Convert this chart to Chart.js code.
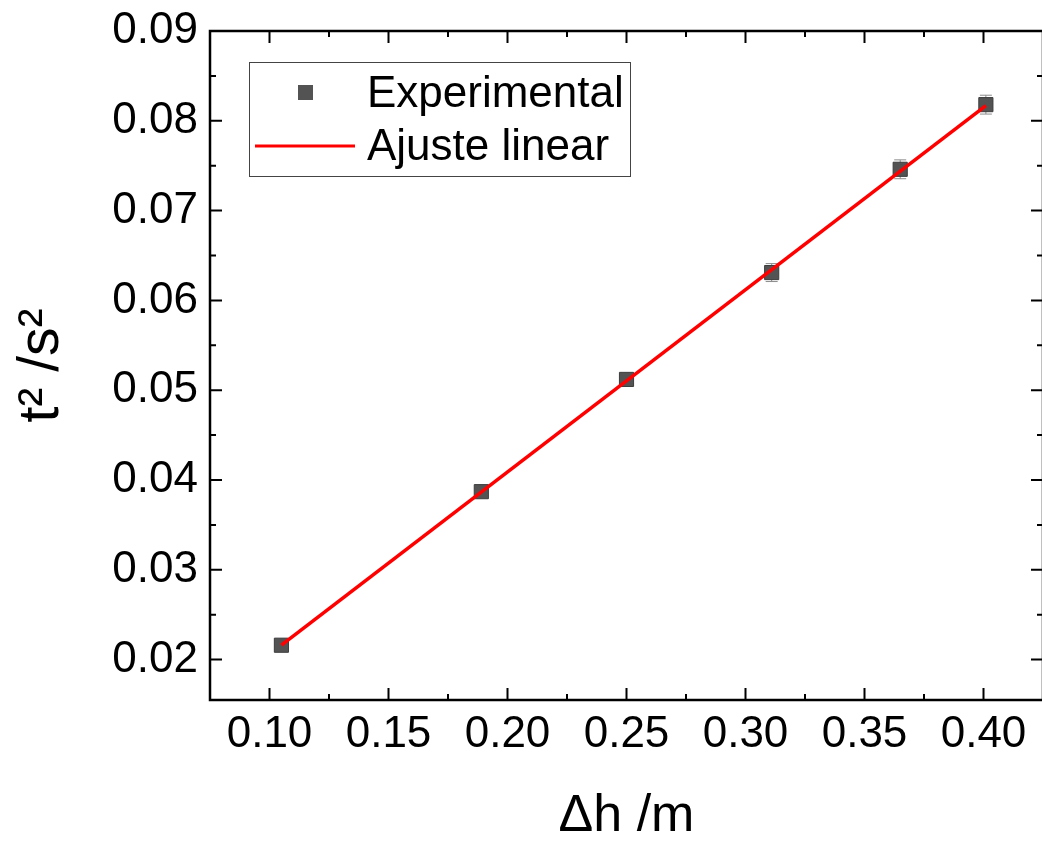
<!DOCTYPE html>
<html>
<head>
<meta charset="utf-8">
<script src="https://cdn.jsdelivr.net/npm/chart.js@4.4.1/dist/chart.umd.min.js"></script>
<style>
    html, body { margin: 0; padding: 0; background: #fff; overflow: hidden; }
    #wadah { width: 1060px; height: 841px; }
</style>
</head>
<body>
<div id="wadah"><canvas id="grafik"></canvas></div>
<script>
// data
const dhValues = [0.105, 0.189, 0.250, 0.311, 0.365, 0.401]
const t2Values = [0.0216, 0.0387, 0.0512, 0.0631, 0.0746, 0.0818]
const t2Errors = [0.0004, 0.0004, 0.0006, 0.0010, 0.00105, 0.00105]
const fitX = [0.105, 0.401]
const fitY = [0.0216, 0.0817]
const xTickValues = [0.10, 0.15, 0.20, 0.25, 0.30, 0.35, 0.40]
const yTickValues = [0.02, 0.03, 0.04, 0.05, 0.06, 0.07, 0.08, 0.09]

Chart.defaults.font.family = "'Liberation Sans', Arial, sans-serif"
Chart.defaults.color = '#000'

// box around the plot with inward ticks on all four sides
const bingkai = {
    id: 'bingkai',
    afterDraw(chart) {
        const { ctx, chartArea: a, scales } = chart
        ctx.save()
        ctx.strokeStyle = '#000'
        ctx.lineWidth = 2.5
        ctx.strokeRect(a.left, a.top, a.right - a.left, a.bottom - a.top)

        const marks = (scale) => {
            const vals = scale.ticks.map(t => t.value)
            const step = vals[1] - vals[0]
            const list = []
            vals.forEach(v => list.push([v, 12]))
            for (let v = vals[0] - step / 2; v <= scale.max + 1e-9; v += step) {
                if (v >= scale.min - 1e-9) list.push([v, 6])
            }
            return list
        }
        ctx.lineWidth = 2
        ctx.beginPath()
        marks(scales.x).forEach(([v, len]) => {
            const px = scales.x.getPixelForValue(v)
            ctx.moveTo(px, a.bottom); ctx.lineTo(px, a.bottom - len)
            ctx.moveTo(px, a.top); ctx.lineTo(px, a.top + len)
        })
        marks(scales.y).forEach(([v, len]) => {
            const py = scales.y.getPixelForValue(v)
            ctx.moveTo(a.left, py); ctx.lineTo(a.left + len, py)
            ctx.moveTo(a.right, py); ctx.lineTo(a.right - len, py)
        })
        ctx.stroke()
        ctx.restore()
    }
}

// error bars under the markers
const galat = {
    id: 'galat',
    beforeDatasetsDraw(chart) {
        const { ctx, scales } = chart
        ctx.save()
        ctx.strokeStyle = '#8c8c8c'
        ctx.lineWidth = 1
        ctx.beginPath()
        dhValues.forEach((x, i) => {
            const px = scales.x.getPixelForValue(x)
            const y1 = scales.y.getPixelForValue(t2Values[i] - t2Errors[i])
            const y2 = scales.y.getPixelForValue(t2Values[i] + t2Errors[i])
            ctx.moveTo(px, y1); ctx.lineTo(px, y2)
            ctx.moveTo(px - 6, y1); ctx.lineTo(px + 6, y1)
            ctx.moveTo(px - 6, y2); ctx.lineTo(px + 6, y2)
        })
        ctx.stroke()
        ctx.restore()
    }
}

// legend box inside the plot
const legenda = {
    id: 'legenda',
    afterDraw(chart) {
        const { ctx, chartArea: a } = chart
        const ds = chart.data.datasets
        const bx = a.left + 39, by = a.top + 31
        ctx.save()
        ctx.fillStyle = '#fff'
        ctx.fillRect(bx, by, 381, 114)
        ctx.strokeStyle = '#444'
        ctx.lineWidth = 1
        ctx.strokeRect(bx + 0.5, by + 0.5, 381, 114)

        ctx.fillStyle = ds[1].backgroundColor
        ctx.fillRect(bx + 49, by + 23, 15, 15)
        ctx.strokeStyle = ds[0].borderColor
        ctx.lineWidth = 3
        ctx.beginPath()
        ctx.moveTo(bx + 6, by + 84); ctx.lineTo(bx + 106, by + 84)
        ctx.stroke()

        ctx.fillStyle = '#000'
        ctx.font = "44px 'Liberation Sans', Arial, sans-serif"
        ctx.textBaseline = 'alphabetic'
        ctx.fillText(ds[1].label, bx + 118, by + 45)
        ctx.fillText(ds[0].label, bx + 118, by + 98)
        ctx.restore()
    }
}

const ctx = document.getElementById('grafik').getContext('2d')
const grafik = new Chart(ctx, {
    type: 'scatter',
    data: {
        datasets: [{
            label: 'Ajuste linear',
            data: fitX.map((x, i) => ({ x: x, y: fitY[i] })),
            showLine: true,
            borderColor: '#ff0000',
            borderWidth: 3.5,
            pointRadius: 0,
            order: 0
        }, {
            label: 'Experimental',
            data: dhValues.map((x, i) => ({ x: x, y: t2Values[i] })),
            pointStyle: 'rect',
            pointRadius: 10,
            backgroundColor: '#535353',
            borderColor: '#3c3c3c',
            borderWidth: 1,
            order: 1
        }]
    },
    options: {
        responsive: true,
        maintainAspectRatio: false,
        animation: false,
        layout: { padding: { left: 0, top: 31, right: 17, bottom: 0 } },
        plugins: {
            legend: { display: false },
            tooltip: { enabled: false }
        },
        scales: {
            x: {
                type: 'linear',
                min: 0.075,
                max: 0.425,
                afterBuildTicks: (s) => { s.ticks = xTickValues.map(v => ({ value: v })) },
                afterFit: (s) => {
                    s.height = 141
                    s.paddingLeft = 0
                    s.paddingRight = 0
                },
                grid: { display: false, drawTicks: false },
                border: { display: false },
                ticks: {
                    font: { size: 44 },
                    padding: 8,
                    maxRotation: 0,
                    callback: (v) => v.toFixed(2)
                },
                title: {
                    display: true,
                    text: 'Δh /m',
                    font: { size: 52, lineHeight: 1 },
                    padding: { top: 0, bottom: -2 }
                }
            },
            y: {
                type: 'linear',
                min: 0.0155,
                max: 0.09,
                afterBuildTicks: (s) => { s.ticks = yTickValues.map(v => ({ value: v })) },
                afterFit: (s) => {
                    s.width = 210
                    s.paddingTop = 0
                    s.paddingBottom = 0
                },
                grid: { display: false, drawTicks: false },
                border: { display: false },
                ticks: {
                    font: { size: 44 },
                    padding: 12,
                    callback: (v) => v.toFixed(2)
                },
                title: {
                    display: true,
                    text: 't² /s²',
                    font: { size: 57, lineHeight: 1 },
                    padding: { top: 14, bottom: 0 }
                }
            }
        }
    },
    plugins: [galat, bingkai, legenda]
})
</script>
</body>
</html>
